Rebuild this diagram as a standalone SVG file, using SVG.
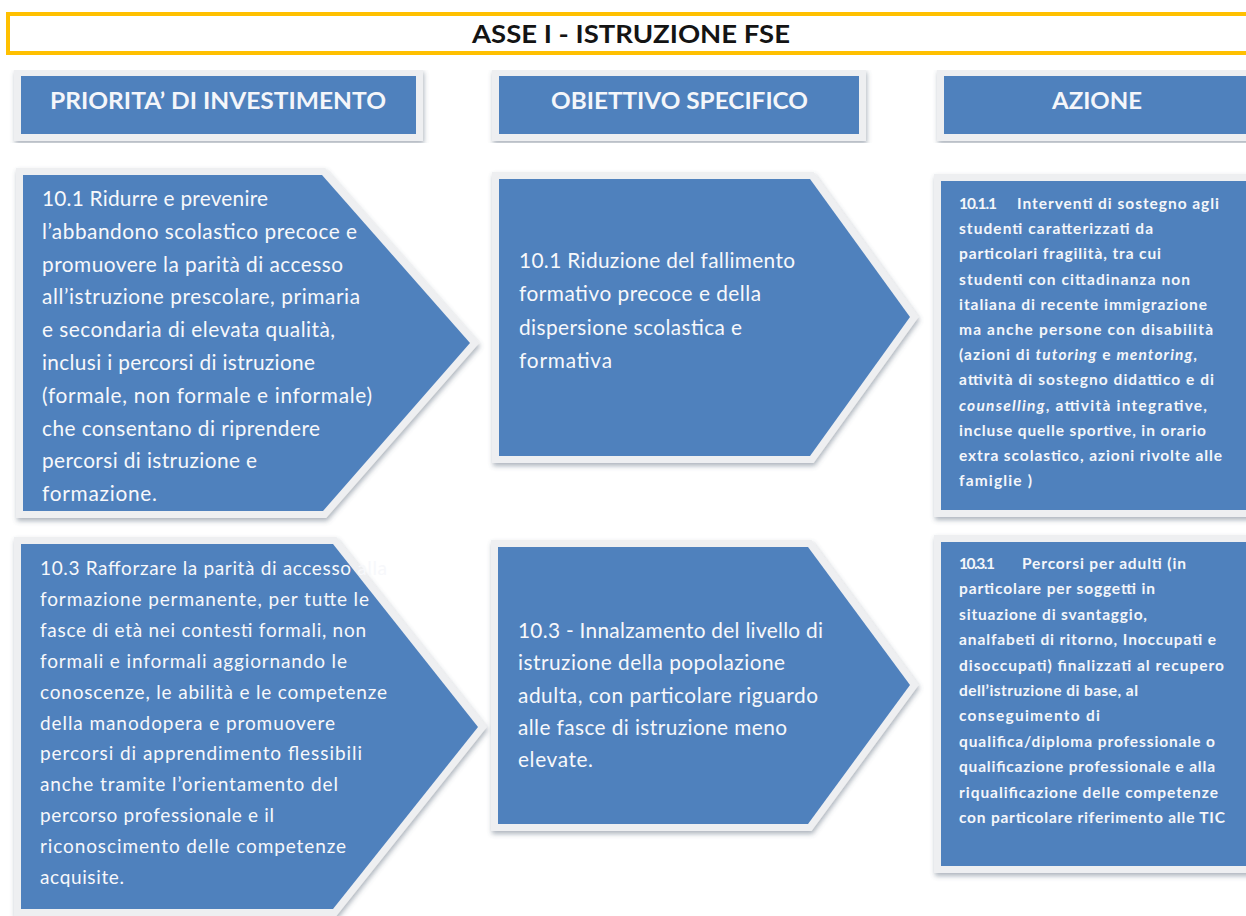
<svg xmlns="http://www.w3.org/2000/svg" width="1246" height="916" viewBox="0 0 1246 916">
<defs>
<filter id="sh" x="-10%" y="-10%" width="120%" height="125%">
<feDropShadow dx="1" dy="3" stdDeviation="2.5" flood-color="#4a5a70" flood-opacity="0.45"/>
</filter>
</defs>
<style>
.frame{fill:#eeeff1;stroke:#eeeff1;stroke-width:14;stroke-linejoin:miter;filter:url(#sh)}
.blue{fill:#4f81bd}
.hdr{font-family:Lato,"Liberation Sans",sans-serif;font-weight:700;font-size:23px;fill:#f4f6fa}
.body{font-family:Lato,"Liberation Sans",sans-serif;font-size:20.8px;fill:#f7f8fb}
.body18{font-family:Lato,"Liberation Sans",sans-serif;font-size:19px;fill:#f7f8fb}
.small{font-family:Lato,"Liberation Sans",sans-serif;font-weight:700;font-size:15.5px;fill:#f4f6fa}
.it{font-style:italic}
.title{font-family:Lato,"Liberation Sans",sans-serif;font-weight:700;font-size:24px;fill:#141414}
</style>
<rect width="1246" height="916" fill="#ffffff"/>

<g id="title">
<rect x="8" y="14" width="1250" height="39" fill="#ffffff" stroke="#ffc000" stroke-width="4"/>
<text class="title" x="472" y="43" textLength="318" lengthAdjust="spacingAndGlyphs">ASSE I - ISTRUZIONE FSE</text>
</g>

<g id="header-priorita">
<rect class="frame" x="21" y="76" width="395" height="58"/>
<rect class="blue" x="21" y="76" width="395" height="58"/>
<text class="hdr" x="50" y="109" textLength="336" lengthAdjust="spacingAndGlyphs">PRIORITA’ DI INVESTIMENTO</text>
</g>

<g id="header-obiettivo">
<rect class="frame" x="499" y="76" width="360" height="58"/>
<rect class="blue" x="499" y="76" width="360" height="58"/>
<text class="hdr" x="551" y="109" textLength="257" lengthAdjust="spacingAndGlyphs">OBIETTIVO SPECIFICO</text>
</g>

<g id="header-azione">
<rect class="frame" x="944" y="76" width="320" height="58"/>
<rect class="blue" x="944" y="76" width="320" height="58"/>
<text class="hdr" x="1052" y="109" textLength="90" lengthAdjust="spacingAndGlyphs">AZIONE</text>
</g>

<g id="priorita-10-1">
<polygon class="frame" points="23,175 322,175 470,343 323,511 23,511"/>
<polygon class="blue" points="23,175 322,175 470,343 323,511 23,511"/>
<text class="body" x="42" y="206" textLength="226">10.1 Ridurre e prevenire</text>
<text class="body" x="42" y="238.8" textLength="315">l’abbandono scolastico precoce e</text>
<text class="body" x="42" y="271.6" textLength="301">promuovere la parità di accesso</text>
<text class="body" x="42" y="304.4" textLength="318">all’istruzione prescolare, primaria</text>
<text class="body" x="42" y="337.2" textLength="293">e secondaria di elevata qualità,</text>
<text class="body" x="42" y="370" textLength="273">inclusi i percorsi di istruzione</text>
<text class="body" x="42" y="402.8" textLength="330">(formale, non formale e informale)</text>
<text class="body" x="42" y="435.6" textLength="278">che consentano di riprendere</text>
<text class="body" x="42" y="468.4" textLength="215">percorsi di istruzione e</text>
<text class="body" x="42" y="501.2" textLength="115">formazione.</text>
</g>

<g id="obiettivo-10-1">
<polygon class="frame" points="499,179 810,179 910,317 810,456 499,456"/>
<polygon class="blue" points="499,179 810,179 910,317 810,456 499,456"/>
<text class="body" x="519" y="268" textLength="276">10.1 Riduzione del fallimento</text>
<text class="body" x="519" y="301.3" textLength="242">formativo precoce e della</text>
<text class="body" x="519" y="334.6" textLength="223">dispersione scolastica e</text>
<text class="body" x="519" y="368" textLength="93">formativa</text>
</g>

<g id="azione-10-1-1">
<rect class="frame" x="941" y="181" width="320" height="329"/>
<rect class="blue" x="941" y="181" width="320" height="329"/>
<text class="small" x="959" y="209" textLength="38">10.1.1</text>
<text class="small" x="1017" y="209" textLength="202">Interventi di sostegno agli</text>
<text class="small" x="959" y="234.2" textLength="194">studenti caratterizzati da</text>
<text class="small" x="959" y="259.4" textLength="202">particolari fragilità, tra cui</text>
<text class="small" x="959" y="284.6" textLength="231">studenti con cittadinanza non</text>
<text class="small" x="959" y="309.8" textLength="248">italiana di recente immigrazione</text>
<text class="small" x="959" y="335" textLength="254">ma anche persone con disabilità</text>
<text class="small" x="959" y="360.2" textLength="238">(azioni di <tspan class="it">tutoring</tspan> e <tspan class="it">mentoring</tspan>,</text>
<text class="small" x="959" y="385.4" textLength="255">attività di sostegno didattico e di</text>
<text class="small" x="959" y="410.6" textLength="248"><tspan class="it">counselling</tspan>, attività integrative,</text>
<text class="small" x="959" y="435.8" textLength="247">incluse quelle sportive, in orario</text>
<text class="small" x="959" y="461" textLength="263">extra scolastico, azioni rivolte alle</text>
<text class="small" x="959" y="486.2" textLength="73">famiglie )</text>
</g>

<g id="priorita-10-3">
<polygon class="frame" points="21,544 333,544 478,727 333,909 21,909"/>
<polygon class="blue" points="21,544 333,544 478,727 333,909 21,909"/>
<text class="body18" x="40" y="575" textLength="347">10.3 Rafforzare la parità di accesso alla</text>
<text class="body18" x="40" y="605.9" textLength="329">formazione permanente, per tutte le</text>
<text class="body18" x="40" y="636.8" textLength="326">fasce di età nei contesti formali, non</text>
<text class="body18" x="40" y="667.7" textLength="307">formali e informali aggiornando le</text>
<text class="body18" x="40" y="698.6" textLength="347">conoscenze, le abilità e le competenze</text>
<text class="body18" x="40" y="729.5" textLength="295">della manodopera e promuovere</text>
<text class="body18" x="40" y="760.4" textLength="322">percorsi di  apprendimento flessibili</text>
<text class="body18" x="40" y="791.3" textLength="298">anche tramite l’orientamento del</text>
<text class="body18" x="40" y="822.2" textLength="234">percorso professionale e il</text>
<text class="body18" x="40" y="853.1" textLength="306">riconoscimento delle competenze</text>
<text class="body18" x="40" y="884" textLength="84">acquisite.</text>
</g>

<g id="obiettivo-10-3">
<polygon class="frame" points="498,547 808,547 910,685 808,824 498,824"/>
<polygon class="blue" points="498,547 808,547 910,685 808,824 498,824"/>
<text class="body" x="518" y="638" textLength="305">10.3 - Innalzamento del livello di</text>
<text class="body" x="518" y="670.25" textLength="267">istruzione della popolazione</text>
<text class="body" x="518" y="702.5" textLength="300">adulta, con particolare riguardo</text>
<text class="body" x="518" y="734.75" textLength="269">alle fasce di istruzione meno</text>
<text class="body" x="518" y="767" textLength="75">elevate.</text>
</g>

<g id="azione-10-3-1">
<rect class="frame" x="941" y="542" width="320" height="324"/>
<rect class="blue" x="941" y="542" width="320" height="324"/>
<text class="small" x="959" y="569" textLength="36">10.3.1</text>
<text class="small" x="1022" y="569" textLength="164">Percorsi per adulti (in</text>
<text class="small" x="959" y="594.4" textLength="196">particolare per soggetti in</text>
<text class="small" x="959" y="619.8" textLength="188">situazione di svantaggio,</text>
<text class="small" x="959" y="645.2" textLength="257">analfabeti di ritorno, Inoccupati e</text>
<text class="small" x="959" y="670.6" textLength="265">disoccupati) finalizzati al recupero</text>
<text class="small" x="959" y="696" textLength="179">dell’istruzione di base, al</text>
<text class="small" x="959" y="721.4" textLength="141">conseguimento di</text>
<text class="small" x="959" y="746.8" textLength="256">qualifica/diploma professionale o</text>
<text class="small" x="959" y="772.2" textLength="256">qualificazione professionale e alla</text>
<text class="small" x="959" y="797.6" textLength="259">riqualificazione delle competenze</text>
<text class="small" x="959" y="823" textLength="266">con particolare riferimento alle TIC</text>
</g>

<g id="connectors"></g>
</svg>
